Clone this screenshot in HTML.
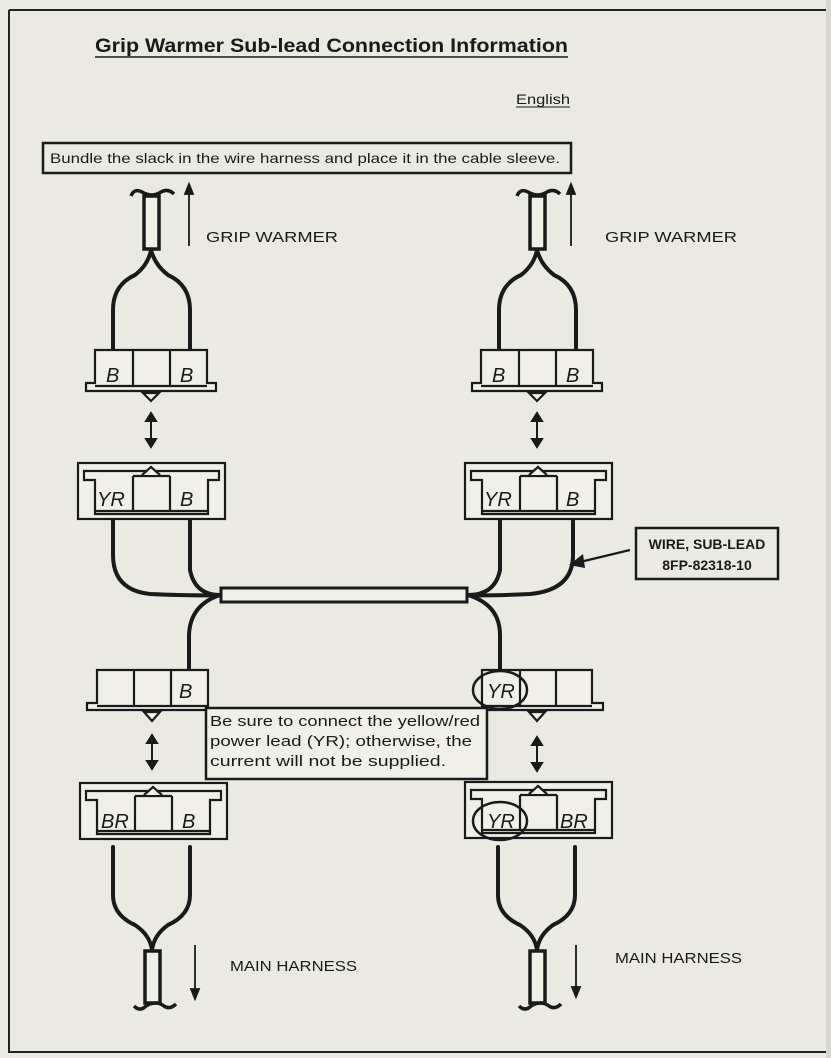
<!DOCTYPE html>
<html><head><meta charset="utf-8"><style>
html,body{margin:0;padding:0;background:#ebeae2;}
svg{display:block}
text{font-family:"Liberation Sans",sans-serif;fill:#1a1a1a}
</style></head><body>
<svg width="831" height="1058" viewBox="0 0 831 1058" xmlns="http://www.w3.org/2000/svg">
<rect width="831" height="1058" fill="#ebeae2"/>
<path d="M9 10 H826 M9 10 V1052 H826" stroke="#222" stroke-width="2" fill="none"/>
<rect x="826" y="0" width="5" height="1058" fill="#d8d7cf"/>
<defs>
<g id="plug" fill="#f0efe8" stroke="#1a1a1a" stroke-width="2.2">
  <path d="M0 0 H112 V33 H121 V41 H-9 V33 H0 Z"/>
  <line x1="38" y1="0" x2="38" y2="36"/><line x1="75" y1="0" x2="75" y2="36"/>
  <line x1="0" y1="36" x2="112" y2="36"/>
  <path d="M48 43 L56 51 L64 43 Z"/>
</g>
<g id="male" fill="#f0efe8" stroke="#1a1a1a" stroke-width="2.2">
  <rect x="0" y="0" width="147" height="56"/>
  <path d="M6 8 H141 V17 H130 V51 H17 V17 H6 Z"/>
  <line x1="55" y1="13" x2="92" y2="13"/>
  <line x1="55" y1="13" x2="55" y2="48"/><line x1="92" y1="13" x2="92" y2="48"/>
  <line x1="17" y1="48" x2="130" y2="48"/>
  <path d="M64 12 L73 4 L82 12"/>
</g>
<g id="darr" fill="#1a1a1a" stroke="#1a1a1a" stroke-width="2">
  <line x1="0" y1="6" x2="0" y2="28"/><path d="M-5 8 L0 0 L5 8Z"/><path d="M-5 26 L0 34 L5 26Z"/>
</g>
</defs>

<text x="95" y="52" font-size="19" font-weight="bold" textLength="473" lengthAdjust="spacingAndGlyphs">Grip Warmer Sub-lead Connection Information</text>
<line x1="95" y1="57" x2="568" y2="57" stroke="#1a1a1a" stroke-width="1.5"/>
<text x="516" y="104" font-size="14" textLength="54" lengthAdjust="spacingAndGlyphs">English</text>
<line x1="516" y1="107" x2="570" y2="107" stroke="#1a1a1a" stroke-width="1"/>
<rect x="43" y="143" width="528" height="30" fill="none" stroke="#1a1a1a" stroke-width="2.5"/>
<text x="50" y="163" font-size="14" textLength="510" lengthAdjust="spacingAndGlyphs">Bundle the slack in the wire harness and place it in the cable sleeve.</text>

<g fill="none" stroke="#1a1a1a" stroke-width="4" stroke-linecap="round">
<path d="M113 350 V310 Q113 285 135 275 Q148 265 151 250 M190 350 V310 Q190 285 168 275 Q155 265 151 250"/>
<path d="M499 350 V310 Q499 285 521 275 Q534 265 537 250 M576 350 V310 Q576 285 554 275 Q541 265 537 250"/>
<path d="M113 518 V555 Q113 590 150 594 Q195 596 220 595"/>
<path d="M190 518 V570 Q195 595 220 595"/>
<path d="M220 595 Q190 605 189 635 V670"/>
<path d="M500 518 V570 Q495 595 468 595"/>
<path d="M573 518 V555 Q573 590 530 594 Q490 596 468 595"/>
<path d="M468 595 Q500 605 500 635 V670"/>
<path d="M113 847 V895 Q113 915 135 925 Q150 935 152 950 M190 847 V895 Q190 915 168 925 Q154 935 152 950"/>
<path d="M498 847 V895 Q498 915 520 925 Q535 935 537 950 M575 847 V895 Q575 915 553 925 Q539 935 537 950"/>
</g>
<rect x="221" y="588" width="246" height="14" fill="#f0efe8" stroke="#1a1a1a" stroke-width="3"/>

<g fill="#f0efe8" stroke="#1a1a1a" stroke-width="3.5">
<rect x="144" y="196" width="15" height="53"/>
<rect x="530" y="196" width="15" height="53"/>
<rect x="145" y="951" width="15" height="52"/>
<rect x="530" y="951" width="15" height="52"/>
</g>
<g fill="none" stroke="#1a1a1a" stroke-width="3.5">
<path d="M131 196 Q134 188 142 192 Q152 198 161 192 Q168 188 174 194"/>
<path d="M517 196 Q520 188 528 192 Q538 198 547 192 Q554 188 560 194"/>
<path d="M134 1006 Q140 1012 146 1006 Q156 1000 164 1006 Q170 1010 176 1004"/>
<path d="M519 1006 Q525 1012 531 1006 Q541 1000 549 1006 Q555 1010 561 1004"/>
</g>
<g stroke="#1a1a1a" stroke-width="1.8" fill="#1a1a1a">
<line x1="189" y1="246" x2="189" y2="192"/><path d="M185 194 L189 184 L193 194Z"/>
<line x1="571" y1="246" x2="571" y2="192"/><path d="M567 194 L571 184 L575 194Z"/>
<line x1="195" y1="945" x2="195" y2="990"/><path d="M191 989 L195 999 L199 989Z"/>
<line x1="576" y1="945" x2="576" y2="988"/><path d="M572 987 L576 997 L580 987Z"/>
</g>
<text x="206" y="242" font-size="15" textLength="132" lengthAdjust="spacingAndGlyphs">GRIP WARMER</text>
<text x="605" y="242" font-size="15" textLength="132" lengthAdjust="spacingAndGlyphs">GRIP WARMER</text>
<text x="230" y="971" font-size="15" textLength="127" lengthAdjust="spacingAndGlyphs">MAIN HARNESS</text>
<text x="615" y="963" font-size="15" textLength="127" lengthAdjust="spacingAndGlyphs">MAIN HARNESS</text>

<use href="#plug" x="95" y="350"/>
<use href="#plug" x="481" y="350"/>
<use href="#darr" x="151" y="413"/>
<use href="#darr" x="537" y="413"/>
<use href="#male" x="78" y="463"/>
<use href="#male" x="465" y="463"/>

<g fill="#f0efe8" stroke="#1a1a1a" stroke-width="2.2">
<path d="M97 670 H208 V710 H87 V703 H97 Z"/>
<line x1="134" y1="670" x2="134" y2="706"/><line x1="171" y1="670" x2="171" y2="706"/>
<line x1="97" y1="706" x2="208" y2="706"/>
<path d="M144 712 L152 721 L160 712Z"/>
<path d="M482 670 H592 V703 H603 V710 H482 Z"/>
<line x1="520" y1="670" x2="520" y2="706"/><line x1="556" y1="670" x2="556" y2="706"/>
<line x1="482" y1="706" x2="592" y2="706"/>
<path d="M529 712 L537 721 L545 712Z"/>
</g>
<use href="#darr" x="152" y="735"/>
<use href="#darr" x="537" y="737"/>
<use href="#male" x="80" y="783"/>
<use href="#male" x="465" y="782"/>

<g font-size="20" font-style="italic">
<text x="106" y="382">B</text><text x="180" y="382">B</text>
<text x="492" y="382">B</text><text x="566" y="382">B</text>
<text x="97" y="506">YR</text><text x="180" y="506">B</text>
<text x="484" y="506">YR</text><text x="566" y="506">B</text>
<text x="179" y="698">B</text>
<text x="487" y="698">YR</text>
<text x="101" y="828">BR</text><text x="182" y="828">B</text>
<text x="487" y="828">YR</text><text x="560" y="828">BR</text>
</g>
<g fill="none" stroke="#1a1a1a" stroke-width="2.5">
<ellipse cx="500" cy="690" rx="27" ry="19"/>
<ellipse cx="500" cy="821" rx="27" ry="19"/>
</g>

<rect x="206" y="708" width="281" height="71" fill="#f0efe8" stroke="#1a1a1a" stroke-width="2.5"/>
<text font-size="14.5"><tspan x="210" y="726" textLength="270" lengthAdjust="spacingAndGlyphs">Be sure to connect the yellow/red</tspan><tspan x="210" y="746" textLength="262" lengthAdjust="spacingAndGlyphs">power lead (YR); otherwise, the</tspan><tspan x="210" y="766" textLength="236" lengthAdjust="spacingAndGlyphs">current will not be supplied.</tspan></text>

<rect x="636" y="528" width="142" height="51" fill="none" stroke="#1a1a1a" stroke-width="2.5"/>
<text x="707" y="549" font-size="14" font-weight="bold" text-anchor="middle">WIRE, SUB-LEAD</text>
<text x="707" y="570" font-size="14" font-weight="bold" text-anchor="middle">8FP-82318-10</text>
<line x1="630" y1="550" x2="580" y2="562" stroke="#1a1a1a" stroke-width="2.2"/>
<path d="M569 565 L583 554 L585 568Z" fill="#1a1a1a"/>
</svg>
</body></html>
